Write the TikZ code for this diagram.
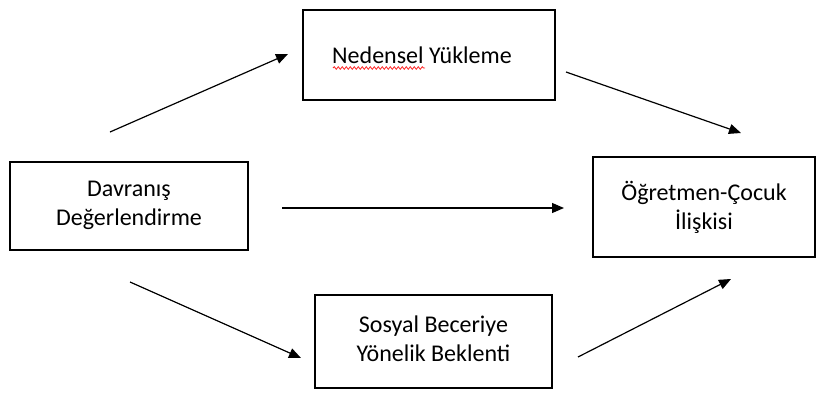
\documentclass[tikz,border=0pt]{standalone}
\usepackage{fontspec}
\setmainfont{Carlito}
\usetikzlibrary{arrows.meta,decorations.pathmorphing}
\begin{document}
\begin{tikzpicture}[x=1pt,y=-1pt,
  box/.style={draw=black,line width=1.3pt,align=center,inner sep=0pt,
    font=\fontsize{24}{29}\selectfont},
  link/.style={line width=1.2pt,-{Triangle[length=12pt,width=10pt]}}]
  \useasboundingbox (0,0) rectangle (820,394);
  % boxes (text nudged a little below centre where needed)
  \node[box,minimum width=238pt,minimum height=88pt,text depth=6pt] (beh) at (129,206) {Davranış\\Değerlendirme};
  \node[box,minimum width=252pt,minimum height=90pt] (att) at (429,55) {Nedensel Yükleme\hspace*{14pt}};
  \node[box,minimum width=222pt,minimum height=100pt] (rel) at (704,207) {Öğretmen-Çocuk\\İlişkisi};
  \node[box,minimum width=237pt,minimum height=93pt,text depth=6pt] (exp) at (433.5,341.5) {Sosyal Beceriye\\Yönelik Beklenti};
  % spell-check squiggle under the first word
  \coordinate (sq1) at (333,68);
  \coordinate (sq2) at (425,68);
  \draw[red!85!white,line width=0.8pt,decorate,decoration={snake,amplitude=1.3pt,segment length=4pt}] (sq1) -- (sq2);
  % arrow end points
  \coordinate (a1s) at (110,132); \coordinate (a1e) at (288,54);
  \coordinate (a2s) at (566,72);  \coordinate (a2e) at (741,133);
  \coordinate (a3s) at (282,208); \coordinate (a3e) at (564,208);
  \coordinate (a4s) at (130,282); \coordinate (a4e) at (301,358);
  \coordinate (a5s) at (578,357); \coordinate (a5e) at (731,279);
  \draw[link] (a1s) -- (a1e);
  \draw[link] (a2s) -- (a2e);
  \draw[link] (a3s) -- (a3e);
  \draw[link] (a4s) -- (a4e);
  \draw[link] (a5s) -- (a5e);
\end{tikzpicture}
\end{document}
